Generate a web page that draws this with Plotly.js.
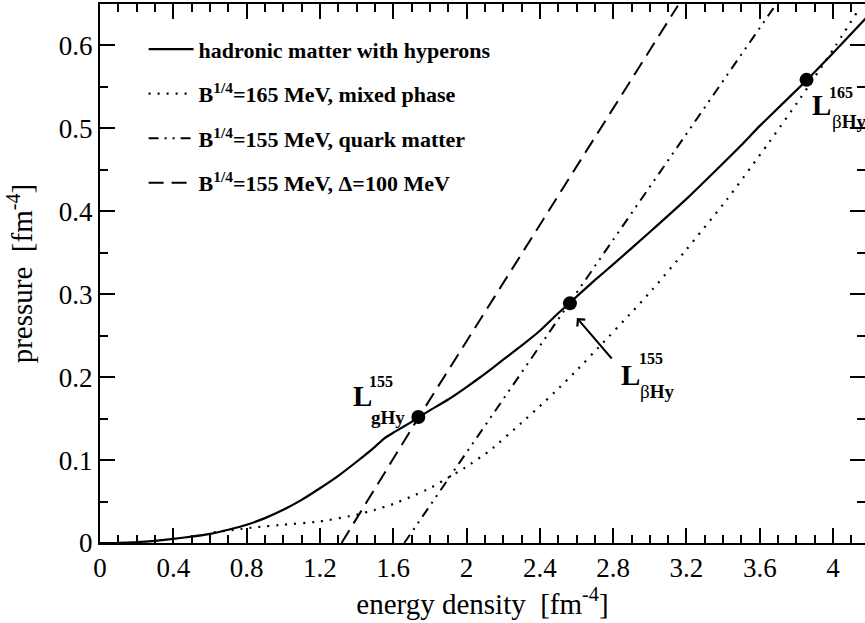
<!DOCTYPE html>
<html>
<head>
<meta charset="utf-8">
<script src="https://cdn.plot.ly/plotly-3.0.1.min.js"></script>
<style>
html,body{margin:0;padding:0;background:#fff;overflow:hidden;}
#chart{width:865px;height:623px;}
</style>
</head>
<body>
<div id="chart"></div>
<script>
// hadronic matter with hyperons (solid)
const hadX = [0,0.1,0.2,0.3,0.4,0.5,0.6,0.7,0.8,0.9,1.0,1.1,1.2,1.3,1.4,1.5,1.55,1.6,1.7,1.74,1.8,1.9,2.0,2.1,2.2,2.3,2.4,2.5,2.56,2.7,2.8,3.0,3.2,3.4,3.5,3.6,3.86,4.0,4.2];
const hadY = [0,0.0002,0.001,0.0025,0.005,0.0077,0.011,0.016,0.022,0.030,0.040,0.052,0.066,0.081,0.098,0.116,0.126,0.133,0.146,0.152,0.160,0.173,0.188,0.204,0.221,0.238,0.256,0.277,0.289,0.317,0.336,0.375,0.415,0.458,0.480,0.503,0.559,0.591,0.638];
// B^1/4=165 MeV, mixed phase (dotted)
const mixX = [0.62,0.85,1.0,1.2,1.4,1.5,1.6,1.7,1.8,1.87,2.0,2.13,2.3,2.4,2.5,2.6,2.73,2.9,3.0,3.2,3.42,3.64,3.82,4.0,4.13];
const mixY = [0.013,0.019,0.022,0.026,0.034,0.040,0.047,0.056,0.066,0.075,0.092,0.112,0.145,0.165,0.186,0.208,0.238,0.278,0.302,0.354,0.414,0.480,0.536,0.595,0.640];
// B^1/4=155 MeV, quark matter (dash-dot-dot)
const qmX = [1.66,2.56,3.69];
const qmY = [0,0.289,0.65];
// B^1/4=155 MeV, Delta=100 MeV (dashed)
const csX = [1.318,1.74,3.153];
const csY = [0,0.152,0.648];
// marked points
const ptX = [1.737,2.564,3.855];
const ptY = [0.152,0.289,0.5585];
// legend names
const names = [
  "<b>hadronic matter with hyperons</b>",
  "<b>B<sup>1/4</sup>=165 MeV, mixed phase</b>",
  "<b>B<sup>1/4</sup>=155 MeV, quark matter</b>",
  "<b>B<sup>1/4</sup>=155 MeV, Δ=100 MeV</b>"
];
const xTicks = [0,0.4,0.8,1.2,1.6,2,2.4,2.8,3.2,3.6,4];
const xTickText = ["0","0.4","0.8","1.2","1.6","2","2.4","2.8","3.2","3.6","4"];
const yTicks = [0,0.1,0.2,0.3,0.4,0.5,0.6];
const yTickText = ["0","0.1","0.2","0.3","0.4","0.5","0.6"];

const FONT = "Liberation Serif";

const traces = [
  {x: hadX, y: hadY, mode: "lines", name: names[0], legendgroup: "a",
   line: {color: "black", width: 2.2, shape: "spline", smoothing: 0.4}},
  {x: mixX, y: mixY, mode: "lines", name: names[1], legendgroup: "b",
   line: {color: "black", width: 2.2, dash: "2px,7px", shape: "spline", smoothing: 0.4}},
  {x: qmX, y: qmY, mode: "lines", name: names[2], legendgroup: "c",
   line: {color: "black", width: 2, dash: "10px,6px,2px,6px,2px,6px"}},
  {x: csX, y: csY, mode: "lines", name: names[3], legendgroup: "d",
   line: {color: "black", width: 2, dash: "15px,8px"}},
  {x: ptX, y: ptY, mode: "markers", showlegend: false,
   marker: {color: "black", size: 14}}
];

const axisCommon = {
  showline: true, linecolor: "black", linewidth: 2, mirror: "allticks",
  ticks: "inside", ticklen: 15, tickwidth: 2, tickcolor: "black",
  showgrid: false, zeroline: false,
  tickfont: {family: FONT, size: 27, color: "black"}
};

const ann = [];
function lab(x, y, text, size, bold) {
  ann.push({x: x, y: y, xref: "x", yref: "y", text: bold ? "<b>" + text + "</b>" : text,
    showarrow: false, xanchor: "left", yanchor: "middle",
    font: {family: FONT, size: size, color: "black"}});
}
lab(1.369, 0.1773, "L", 29, true);
lab(1.457, 0.1942, "155", 16, true);
lab(1.4675, 0.1514, "gHy", 19, true);
lab(2.831, 0.2027, "L", 29, true);
lab(2.930, 0.222, "155", 16, true);
lab(2.935, 0.1827, "β<b>Hy</b>", 19, false);
lab(3.873, 0.528, "L", 29, true);
lab(3.966, 0.5434, "165", 16, true);
lab(3.983, 0.5084, "β<b>Hy</b>", 19, false);
ann.push({x: 2.602, y: 0.2714, ax: 2.799, ay: 0.2207, xref: "x", yref: "y", axref: "x", ayref: "y",
  text: "", showarrow: true, arrowhead: 4, arrowsize: 1, arrowwidth: 2, arrowcolor: "black"});

const layout = {
  width: 865, height: 623,
  margin: {l: 100, r: 0, t: 4, b: 80},
  paper_bgcolor: "white", plot_bgcolor: "white",
  font: {family: FONT, color: "black"},
  xaxis: Object.assign({}, axisCommon, {
    range: [0, 4.174], tickvals: xTicks, ticktext: xTickText,
    minor: {dtick: 0.1, tick0: 0, ticks: "inside", ticklen: 8, tickwidth: 2, tickcolor: "black"},
    title: {text: "energy density&nbsp;&nbsp;[fm<sup>-4</sup>]", font: {family: FONT, size: 29, color: "black"}, standoff: 3}
  }),
  yaxis: Object.assign({}, axisCommon, {
    range: [0, 0.65], tickvals: yTicks, ticktext: yTickText,
    minor: {dtick: 0.05, tick0: 0, ticks: "inside", ticklen: 8, tickwidth: 2, tickcolor: "black"},
    title: {text: "pressure&nbsp;&nbsp;[fm<sup>-4</sup>]", font: {family: FONT, size: 29, color: "black"}, standoff: 18}
  }),
  showlegend: true,
  legend: {x: 0.057, y: 0.955, xanchor: "left", yanchor: "top", bgcolor: "rgba(0,0,0,0)",
    font: {family: FONT, size: 22, color: "black"}, tracegroupgap: 13, itemwidth: 45},
  annotations: ann
};

Plotly.newPlot("chart", traces, layout, {displayModeBar: false, staticPlot: true});
</script>
</body>
</html>
